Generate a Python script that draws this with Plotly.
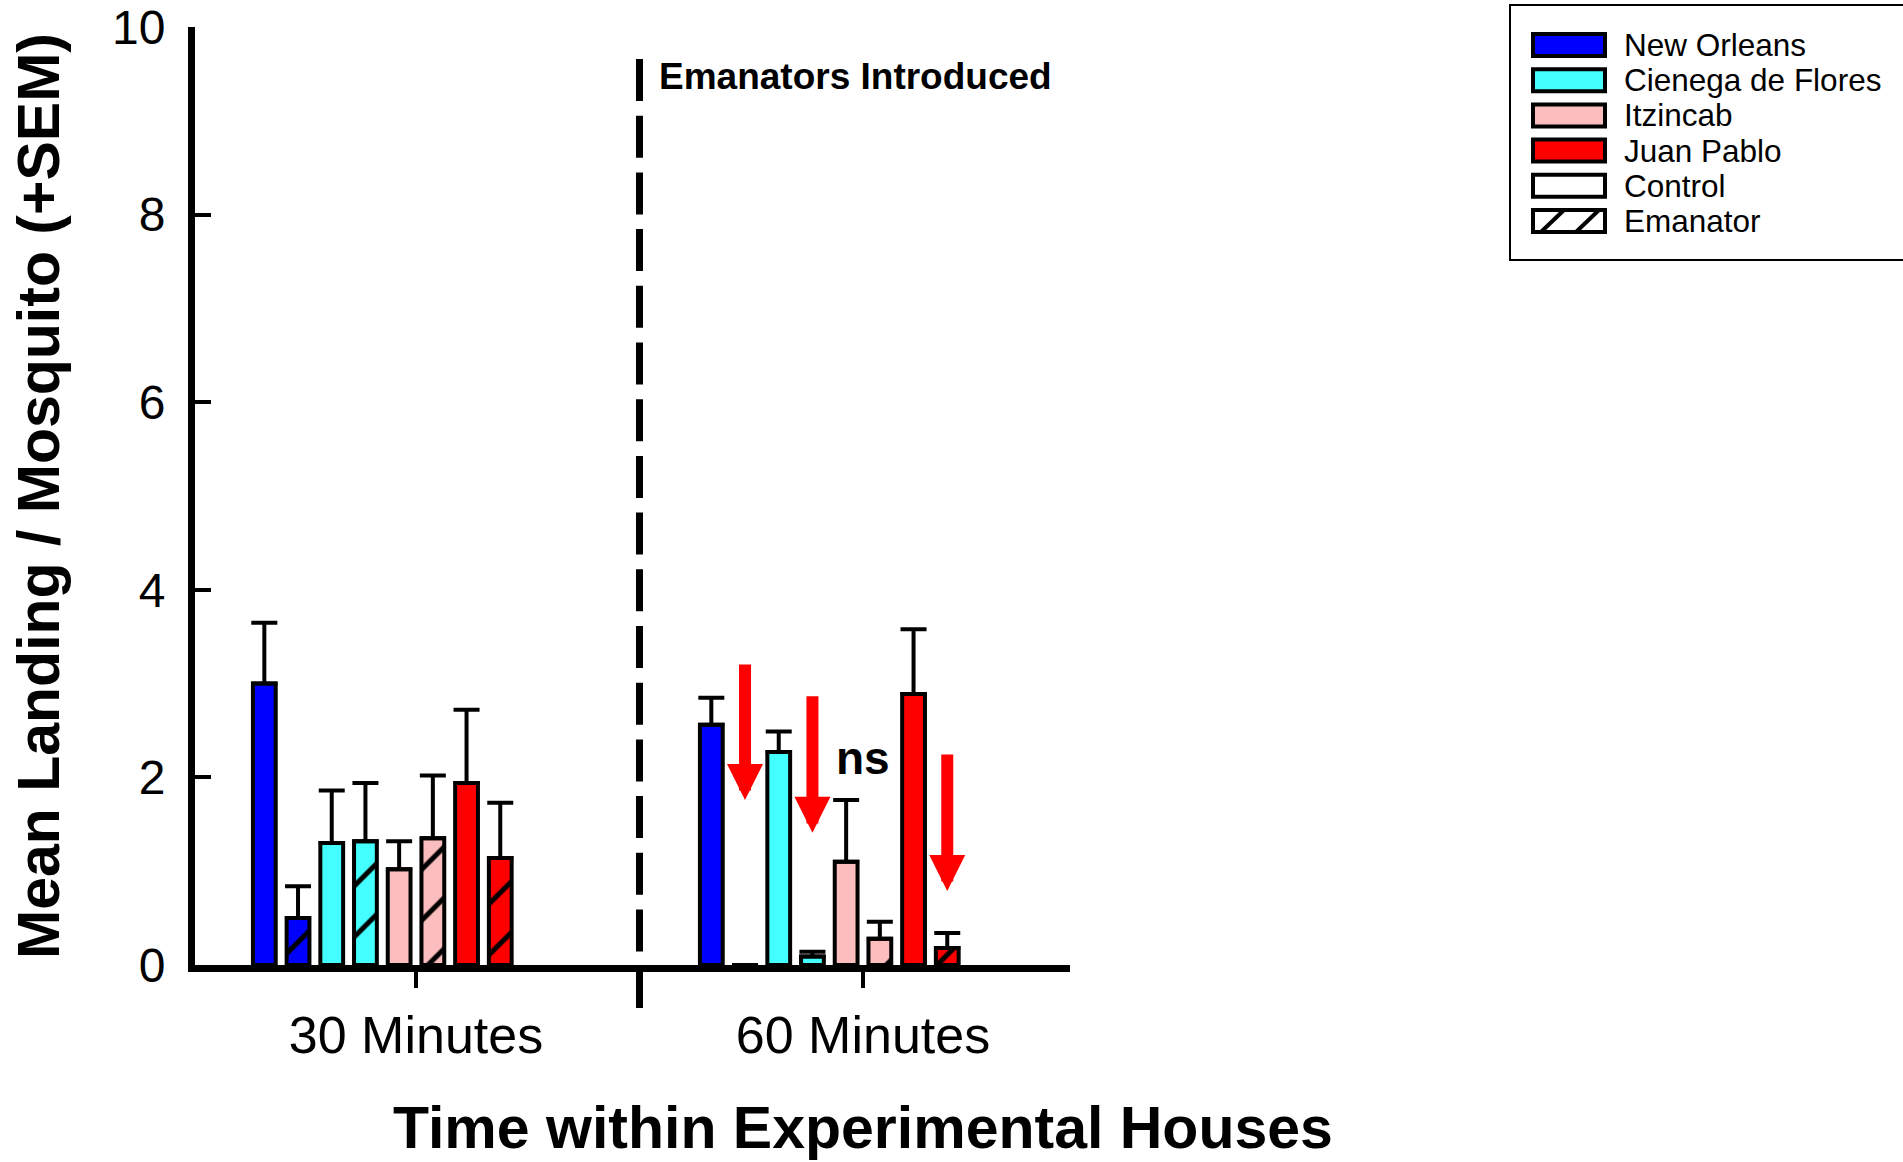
import plotly.graph_objects as go

# ---------------- data ----------------
time_labels = ["30 Minutes", "60 Minutes"]
series_names = [
    "New Orleans Control", "New Orleans Emanator",
    "Cienega de Flores Control", "Cienega de Flores Emanator",
    "Itzincab Control", "Itzincab Emanator",
    "Juan Pablo Control", "Juan Pablo Emanator",
]
series_colors = ["#0000FF", "#0000FF", "#44FFFF", "#44FFFF",
                 "#FBBDBD", "#FBBDBD", "#FF0000", "#FF0000"]
series_hatched = [False, True, False, True, False, True, False, True]

# means at 30 and 60 minutes
means = [
    [3.00, 2.56],
    [0.50, 0.00],
    [1.30, 2.27],
    [1.32, 0.09],
    [1.02, 1.10],
    [1.35, 0.28],
    [1.94, 2.89],
    [1.14, 0.18],
]
# +SEM
sems = [
    [0.65, 0.29],
    [0.34, 0.00],
    [0.56, 0.22],
    [0.62, 0.05],
    [0.30, 0.66],
    [0.67, 0.18],
    [0.78, 0.69],
    [0.59, 0.16],
]

# red arrows at 60 minutes (series slot, tail value, tip value)
arrow_slots = [1, 3, 7]
arrow_tail = [3.22, 2.88, 2.26]
arrow_tip = [1.76, 1.41, 0.79]

legend_labels = ["New Orleans", "Cienega de Flores", "Itzincab", "Juan Pablo",
                 "Control", "Emanator"]
legend_colors = ["#0000FF", "#44FFFF", "#FBBDBD", "#FF0000", "#FFFFFF", "#FFFFFF"]

# ---------------- layout constants ----------------
FONT = "Liberation Sans, Arial, sans-serif"
W, H = 1903, 1162
ML, MR, MT, MB = 195, 833, 27, 197
X_RANGE = [-0.4944, 1.4631]
Y_RANGE = [0, 10]
SLOT = 0.0754
BAR_W = 0.051
n_series = len(series_names)

plot_w = W - ML - MR
plot_h = H - MT - MB


def px_to_paper_x(px):
    return (px - ML) / plot_w


def px_to_paper_y(py):
    return (H - MB - py) / plot_h


def slot_center(i):
    return (i - (n_series + 1) / 2) * SLOT


fig = go.Figure()

for i in range(n_series):
    offset = slot_center(i) - BAR_W / 2
    if series_hatched[i]:
        pattern = dict(shape="/", fgcolor="black", bgcolor=series_colors[i],
                       size=36, solidity=0.14, fillmode="replace")
    else:
        pattern = dict(shape="")
    fig.add_trace(go.Bar(
        x=[0, 1],
        y=means[i],
        name=series_names[i],
        width=BAR_W,
        offset=offset,
        marker=dict(color=series_colors[i], line=dict(color="black", width=4),
                    pattern=pattern),
        error_y=dict(type="data", symmetric=False, array=sems[i],
                     arrayminus=[0, 0], color="black", thickness=4, width=13),
        showlegend=False,
    ))

annotations = []
shapes = []

# red arrows
for slot, tail, tip in zip(arrow_slots, arrow_tail, arrow_tip):
    xc = 1 + slot_center(slot)
    annotations.append(dict(
        x=xc, y=tip, ax=xc, ay=tail, xref="x", yref="y", axref="x", ayref="y",
        showarrow=True, arrowhead=2, arrowsize=0.6, arrowwidth=12,
        arrowcolor="#FF0000", standoff=0, text=""))

# ns
annotations.append(dict(x=1, y=2.21, xref="x", yref="y", text="ns", showarrow=False,
                        font=dict(family=FONT, size=46, color="black", weight="bold"),
                        xanchor="center", yanchor="middle"))

# Emanators Introduced
annotations.append(dict(x=0.5, y=9.47, xref="x", yref="y", xshift=17,
                        text="Emanators Introduced", showarrow=False,
                        font=dict(family=FONT, size=37, color="black", weight="bold"),
                        xanchor="left", yanchor="middle"))

# axis titles
annotations.append(dict(x=1, y=px_to_paper_y(1128), xref="x", yref="paper",
                        text="Time within Experimental Houses", showarrow=False,
                        font=dict(family=FONT, size=59, color="black", weight="bold"),
                        xanchor="center", yanchor="middle"))
annotations.append(dict(x=px_to_paper_x(39), y=0.5, xref="paper", yref="paper",
                        text="Mean Landing / Mosquito (+SEM)", showarrow=False,
                        textangle=-90,
                        font=dict(family=FONT, size=59, color="black", weight="bold"),
                        xanchor="center", yanchor="middle"))

# dashed separator (drawn top to bottom)
xdash = (0.5 - X_RANGE[0]) / (X_RANGE[1] - X_RANGE[0])
shapes.append(dict(type="line", xref="paper", yref="paper",
                   x0=xdash, x1=xdash, y0=px_to_paper_y(59), y1=px_to_paper_y(1008),
                   line=dict(color="black", width=7, dash="42px,14.7px")))

# legend box
shapes.append(dict(type="rect", xref="paper", yref="paper",
                   x0=px_to_paper_x(1510), x1=px_to_paper_x(1910),
                   y0=px_to_paper_y(260), y1=px_to_paper_y(5),
                   line=dict(color="black", width=2), fillcolor="white", layer="below"))
for k, (lab, col) in enumerate(zip(legend_labels, legend_colors)):
    cy = 45 + k * 35.2
    x0p, x1p = px_to_paper_x(1533), px_to_paper_x(1605)
    y0p, y1p = px_to_paper_y(cy + 11), px_to_paper_y(cy - 11)
    shapes.append(dict(type="rect", xref="paper", yref="paper",
                       x0=x0p, x1=x1p, y0=y0p, y1=y1p,
                       line=dict(color="black", width=4), fillcolor=col))
    if lab == "Emanator":
        for sx in (1541, 1576):
            shapes.append(dict(type="line", xref="paper", yref="paper",
                               x0=px_to_paper_x(sx), y0=px_to_paper_y(cy + 11),
                               x1=px_to_paper_x(sx + 23), y1=px_to_paper_y(cy - 11),
                               line=dict(color="black", width=4)))
    annotations.append(dict(x=px_to_paper_x(1622), y=px_to_paper_y(cy), xref="paper",
                            yref="paper", text=lab, showarrow=False,
                            font=dict(family=FONT, size=31.5, color="black"),
                            xanchor="left", yanchor="middle"))

fig.update_layout(
    width=W, height=H,
    margin=dict(l=ML, r=MR, t=MT, b=MB, pad=0, autoexpand=False),
    paper_bgcolor="white", plot_bgcolor="white",
    barmode="overlay",
    showlegend=False,
    annotations=annotations,
    shapes=shapes,
    xaxis=dict(range=X_RANGE, tickvals=[0, 1], ticktext=time_labels,
               showline=True, linecolor="black", linewidth=7, automargin=False,
               ticks="outside", ticklen=16, tickwidth=4, tickcolor="black",
               showgrid=False, zeroline=False, ticklabelstandoff=3,
               tickfont=dict(family=FONT, size=52, color="black")),
    yaxis=dict(range=Y_RANGE, tickvals=[0, 2, 4, 6, 8, 10],
               showline=True, linecolor="black", linewidth=7, automargin=False,
               ticks="inside", ticklen=16, tickwidth=4, tickcolor="black",
               showgrid=False, zeroline=False, ticklabelstandoff=13,
               tickfont=dict(family=FONT, size=48, color="black")),
)

fig.write_html("out.html")
